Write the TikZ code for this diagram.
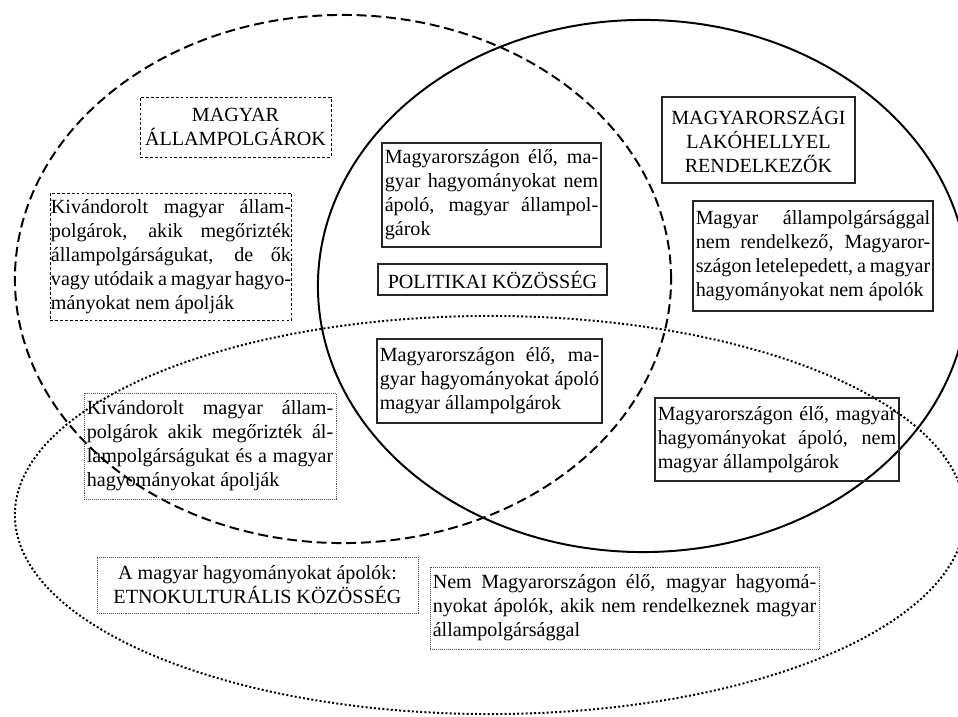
\documentclass[tikz,border=0pt]{standalone}
\usepackage{fontspec}
\setmainfont{Liberation Serif}
\begin{document}
\begin{tikzpicture}[x=0.025cm, y=-0.025cm,
	every node/.style={font=\fontsize{14.3}{17}\selectfont, inner xsep=2pt, inner ysep=3pt, align=justify},
	lako/.style={draw=black!85, line width=0.9pt},
	polgar/.style={draw, line width=0.6pt, dash pattern=on 2pt off 1.5pt},
	etno/.style={draw=black!70, line width=0.6pt, dash pattern=on 0.6pt off 0.8pt}]

	\useasboundingbox (0,0) rectangle (958,716);

	% a harom halmaz
	\draw[line width=1.4pt, dash pattern=on 7pt off 3.5pt] (343,279) ellipse [x radius=8.2cm, y radius=6.6cm];
	\draw[line width=1.4pt] (643,286) ellipse [x radius=8.125cm, y radius=6.65cm];
	\draw[line width=1.4pt, dash pattern=on 1.4pt off 1.6pt] (490,515) ellipse [x radius=11.875cm, y radius=4.975cm];

	% allampolgarok
	\node[polgar, align=center, minimum width=4.775cm, minimum height=1.5cm] (allampolgarok) at (235.5,127) {MAGYAR\\ ÁLLAMPOLGÁROK};
	\node[polgar, inner xsep=0.5pt, text width=6.0cm, minimum height=3.175cm] (kivandorolt) at (171,256.5)
		{Kivándorolt magyar állam-\linebreak polgárok, akik megőrizték\linebreak állampolgárságukat, de ők\linebreak vagy utódaik a magyar hagyo-\linebreak mányokat nem ápolják};

	% politikai kozosseg
	\node[lako, text width=5.335cm, minimum height=2.6cm] (nemapolo) at (491.5,195)
		{Magyarországon élő, ma-\linebreak gyar hagyományokat nem\linebreak ápoló, magyar állampol-\linebreak gárok};
	\node[lako, align=center, minimum width=5.725cm, minimum height=0.775cm] (politikai) at (492.5,279.5) {POLITIKAI KÖZÖSSÉG};
	\node[lako, text width=5.485cm, minimum height=2.1cm] (apolo) at (489.5,381)
		{Magyarországon élő, ma-\linebreak gyar hagyományokat ápoló\linebreak magyar állampolgárok};

	% lakohely
	\node[lako, align=center, minimum width=4.825cm, minimum height=2.15cm] (lakohely) at (758.5,140) {MAGYARORSZÁGI\\ LAKÓHELLYEL\\ RENDELKEZŐK};
	\node[lako, text width=5.86cm, minimum height=2.75cm] (letelepedett) at (813,256)
		{Magyar állampolgársággal\linebreak nem rendelkező, Magyaror-\linebreak szágon letelepedett, a magyar\linebreak hagyományokat nem ápolók};
	\node[lako, text width=5.96cm, minimum height=2.075cm] (nempolgar) at (777,439.5)
		{Magyarországon élő, magyar\linebreak hagyományokat ápoló, nem\linebreak magyar állampolgárok};

	% etnokulturalis kozosseg
	\node[etno, text width=6.16cm, minimum height=2.65cm] (kivapolo) at (210,446)
		{Kivándorolt magyar állam-\linebreak polgárok akik megőrizték ál-\linebreak lampolgárságukat és a magyar\linebreak hagyományokat ápolják};
	\node[etno, align=center, minimum width=8.025cm, minimum height=1.4cm] (etno) at (257.5,585) {A magyar hagyományokat ápolók:\\ ETNOKULTURÁLIS KÖZÖSSÉG};
	\node[etno, text width=9.585cm, minimum height=2.05cm] (kulfoldi) at (624.5,608)
		{Nem Magyarországon élő, magyar hagyomá-\linebreak nyokat ápolók, akik nem rendelkeznek magyar\linebreak állampolgársággal};
\end{tikzpicture}
\end{document}
